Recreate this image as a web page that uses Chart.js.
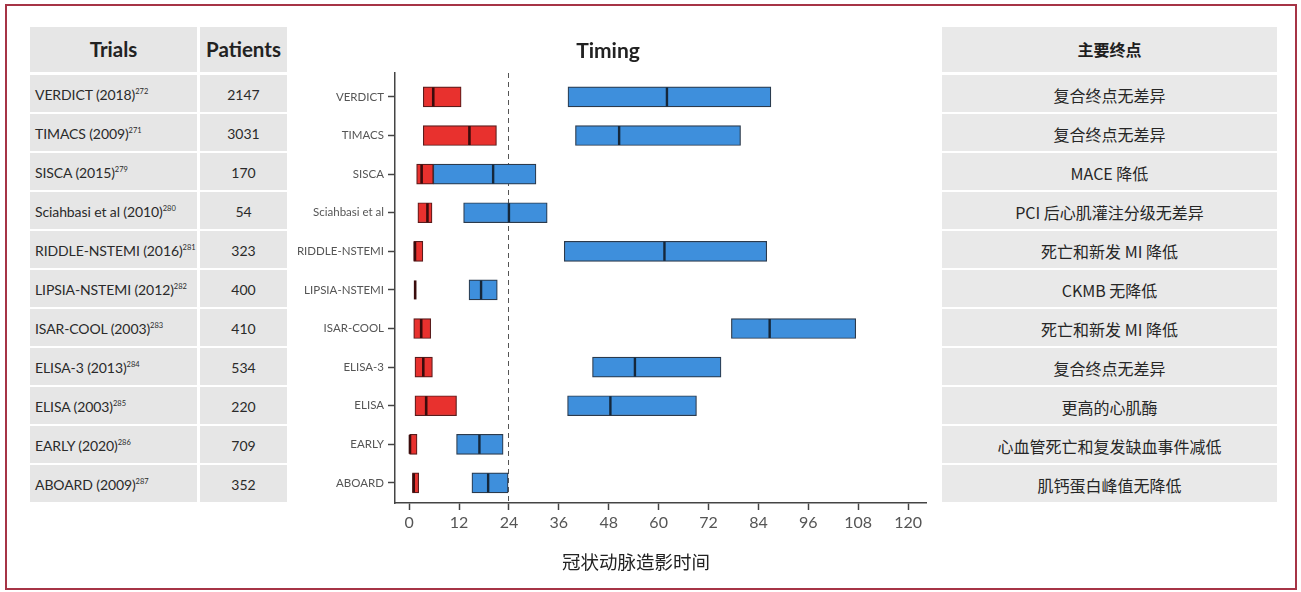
<!DOCTYPE html>
<html>
<head>
<meta charset="utf-8">
<script src="https://cdn.jsdelivr.net/npm/chart.js@4.4.1/dist/chart.umd.min.js"></script>
<style>
  html, body { margin:0; padding:0; background:#fff; }
  body { width:1301px; height:592px; position:relative; overflow:hidden; font-family: Lato, "Noto Sans", sans-serif; }
  #frame { position:absolute; left:5px; top:4px; width:1292px; height:586px; border:2px solid #a63446; box-sizing:border-box; z-index:3; pointer-events:none; }
  #chartWrap { position:absolute; left:0; top:0; width:1301px; height:592px; z-index:1; }
  .cell { position:absolute; background:#e6e6e6; box-sizing:border-box; white-space:nowrap; color:#2a2a2a; z-index:2; }
  .row { padding-top:3px; }
  .hdr { font-weight:bold; font-size:20.5px; text-align:center; color:#222; }
  .trial { font-size:14px; padding-left:5px; letter-spacing:-0.1px; }
  .trial sup { font-size:7.5px; vertical-align: 6px; line-height:0; letter-spacing:0; }
  .pat { font-size:14px; text-align:center; }
  .ep { font-family:"Noto Sans CJK SC", "Noto Sans", sans-serif; font-size:16px; text-align:center; background:#e9e9e9; color:#262626; }
  .eph { font-family:"Noto Sans CJK SC", sans-serif; font-weight:bold; font-size:16px; text-align:center; background:#e9e9e9; color:#1e1e1e; }
  .ttl { position:absolute; z-index:2; white-space:nowrap; }
</style>
</head>
<body>
<div id="frame"></div>
<div id="chartWrap"><canvas id="c" width="1301" height="592"></canvas></div>
<div id="tables"></div>
<div class="ttl" style="left:508px; top:37px; width:200px; text-align:center; font-weight:bold; font-size:21px; color:#222;">Timing</div>
<div class="ttl" style="left:486px; top:548px; width:300px; text-align:center; font-family:'Noto Sans CJK SC', sans-serif; font-size:18.5px; color:#222;">冠状动脉造影时间</div>
<script>
// ---------- data ----------
const trialNames = ["VERDICT (2018)", "TIMACS (2009)", "SISCA (2015)", "Sciahbasi et al (2010)", "RIDDLE-NSTEMI (2016)", "LIPSIA-NSTEMI (2012)", "ISAR-COOL (2003)", "ELISA-3 (2013)", "ELISA (2003)", "EARLY (2020)", "ABOARD (2009)"];
const trialRefs = ["272", "271", "279", "280", "281", "282", "283", "284", "285", "286", "287"];
const patients = ["2147", "3031", "170", "54", "323", "400", "410", "534", "220", "709", "352"];
const endpoints = ["复合终点无差异", "复合终点无差异", "MACE 降低", "PCI 后心肌灌注分级无差异", "死亡和新发 MI 降低", "CKMB 无降低", "死亡和新发 MI 降低", "复合终点无差异", "更高的心肌酶", "心血管死亡和复发缺血事件减低", "肌钙蛋白峰值无降低"];
const axisLabels = ["VERDICT", "TIMACS", "SISCA", "Sciahbasi et al", "RIDDLE-NSTEMI", "LIPSIA-NSTEMI", "ISAR-COOL", "ELISA-3", "ELISA", "EARLY", "ABOARD"];

// early strategy (red): start, end, median (hours)
const earlyStart  = [3.4, 3.4, 1.8, 2.1, 1.1, 1.45, 1.1, 1.4, 1.4, 0.0, 0.8];
const earlyEnd    = [12.5, 21.0, 5.8, 5.5, 3.3, 1.45, 5.2, 5.6, 11.4, 1.9, 2.3];
const earlyMedian = [5.8, 14.5, 3.0, 4.4, 1.4, 1.45, 2.9, 3.4, 4.1, 0.2, 1.1];
// delayed strategy (blue): start, end, median (hours)
const lateStart   = [38.2, 40.0, 5.8, 13.1, 37.3, 14.4, 77.5, 44.1, 38.1, 11.4, 15.1];
const lateEnd     = [87.0, 79.7, 30.5, 33.2, 86.0, 21.2, 107.4, 75.0, 69.1, 22.6, 23.8];
const lateMedian  = [62.0, 50.5, 20.2, 24.0, 61.4, 17.3, 86.7, 54.3, 48.4, 16.9, 19.0];

const xTicks = [0, 12, 24, 36, 48, 60, 72, 84, 96, 108, 120];
const cutoff = 24;

// ---------- tables ----------
const tables = document.getElementById('tables');
function cell(cls, left, top, w, h, html) {
  const d = document.createElement('div');
  d.className = 'cell ' + cls;
  d.style.left = left + 'px'; d.style.top = top + 'px';
  d.style.width = w + 'px'; d.style.height = h + 'px';
  d.style.lineHeight = (h - (cls.indexOf('row') >= 0 ? 3 : 0)) + 'px';
  d.innerHTML = html;
  tables.appendChild(d);
}
cell('hdr', 30, 27, 167, 45, 'Trials');
cell('hdr', 200, 27, 87, 45, 'Patients');
cell('eph', 942, 27, 335, 45, '主要终点');
trialNames.forEach((t, i) => {
  const top = 75 + i * 39;
  cell('trial row', 30, top, 167, 37, t + '<sup>' + trialRefs[i] + '</sup>');
  cell('pat row', 200, top, 87, 37, patients[i]);
  cell('ep row', 942, top, 335, 37, endpoints[i]);
});

// ---------- chart ----------
const redData = trialNames.map((_, i) => ({ y: i, x: [earlyStart[i], earlyEnd[i]] }));
const blueData = trialNames.map((_, i) => ({ y: i, x: [lateStart[i], lateEnd[i]] }));
const redMed = trialNames.map((_, i) => ({ y: i, x: earlyMedian[i] }));
const blueMed = trialNames.map((_, i) => ({ y: i, x: lateMedian[i] }));

new Chart(document.getElementById('c'), {
  type: 'bar',
  data: {
    datasets: [
      { label: 'early', data: redData, backgroundColor: '#e8312e', borderColor: '#5a1c1c', borderWidth: 1.2, borderSkipped: false, barThickness: 20, grouped: false, order: 3 },
      { label: 'delayed', data: blueData, backgroundColor: '#3e8fdc', borderColor: '#2b3a4c', borderWidth: 1.2, borderSkipped: false, barThickness: 20, grouped: false, order: 3 },
      { type: 'scatter', label: 'early median', data: redMed, pointStyle: 'line', rotation: 90, radius: 9.5, borderWidth: 2.6, borderColor: '#3a0c0c', backgroundColor: '#3a0c0c', order: 1 },
      { type: 'scatter', label: 'delayed median', data: blueMed, pointStyle: 'line', rotation: 90, radius: 9.5, borderWidth: 2.4, borderColor: '#15273a', backgroundColor: '#15273a', order: 1 }
    ]
  },
  options: {
    indexAxis: 'y',
    responsive: false,
    animation: false,
    events: [],
    layout: { padding: { left: 285, right: 375, top: 73, bottom: 49 } },
    plugins: { legend: { display: false }, tooltip: { enabled: false }, title: { display: false } },
    scales: {
      y: {
        type: 'linear',
        reverse: true,
        offset: false,
        min: -0.62,
        max: 10.52,
        afterBuildTicks: (s) => { s.ticks = axisLabels.map((_, i) => ({ value: i })); },
        afterFit: (s) => { s.width = 110; },
        ticks: {
          autoSkip: false,
          callback: (v) => axisLabels[v],
          color: '#555',
          font: { family: 'Lato, "Noto Sans", sans-serif', size: 11.5 },
          padding: 4
        },
        grid: { offset: false, drawOnChartArea: false, drawTicks: true, tickLength: 7, tickColor: '#444', tickWidth: 1.5 },
        border: { display: true, color: '#444', width: 1.5 }
      },
      x: {
        type: 'linear',
        offset: false,
        min: -3.4,
        max: 124.3,
        afterBuildTicks: (s) => { s.ticks = xTicks.map(v => ({ value: v })); },
        afterFit: (s) => { s.height = 40; },
        ticks: {
          autoSkip: false,
          maxRotation: 0,
          color: '#555',
          font: { family: 'Lato, "Noto Sans", sans-serif', size: 16 },
          padding: 3
        },
        grid: {
          offset: false,
          drawOnChartArea: true,
          drawTicks: true,
          tickLength: 7,
          tickColor: '#444',
          tickWidth: 1.5,
          lineWidth: 1,
          color: (ctx) => (ctx.tick && ctx.tick.value === cutoff) ? '#555' : 'rgba(0,0,0,0)'
        },
        border: { display: true, color: '#444', width: 1.5, dash: [5, 4] }
      }
    }
  }
});
</script>
</body>
</html>
